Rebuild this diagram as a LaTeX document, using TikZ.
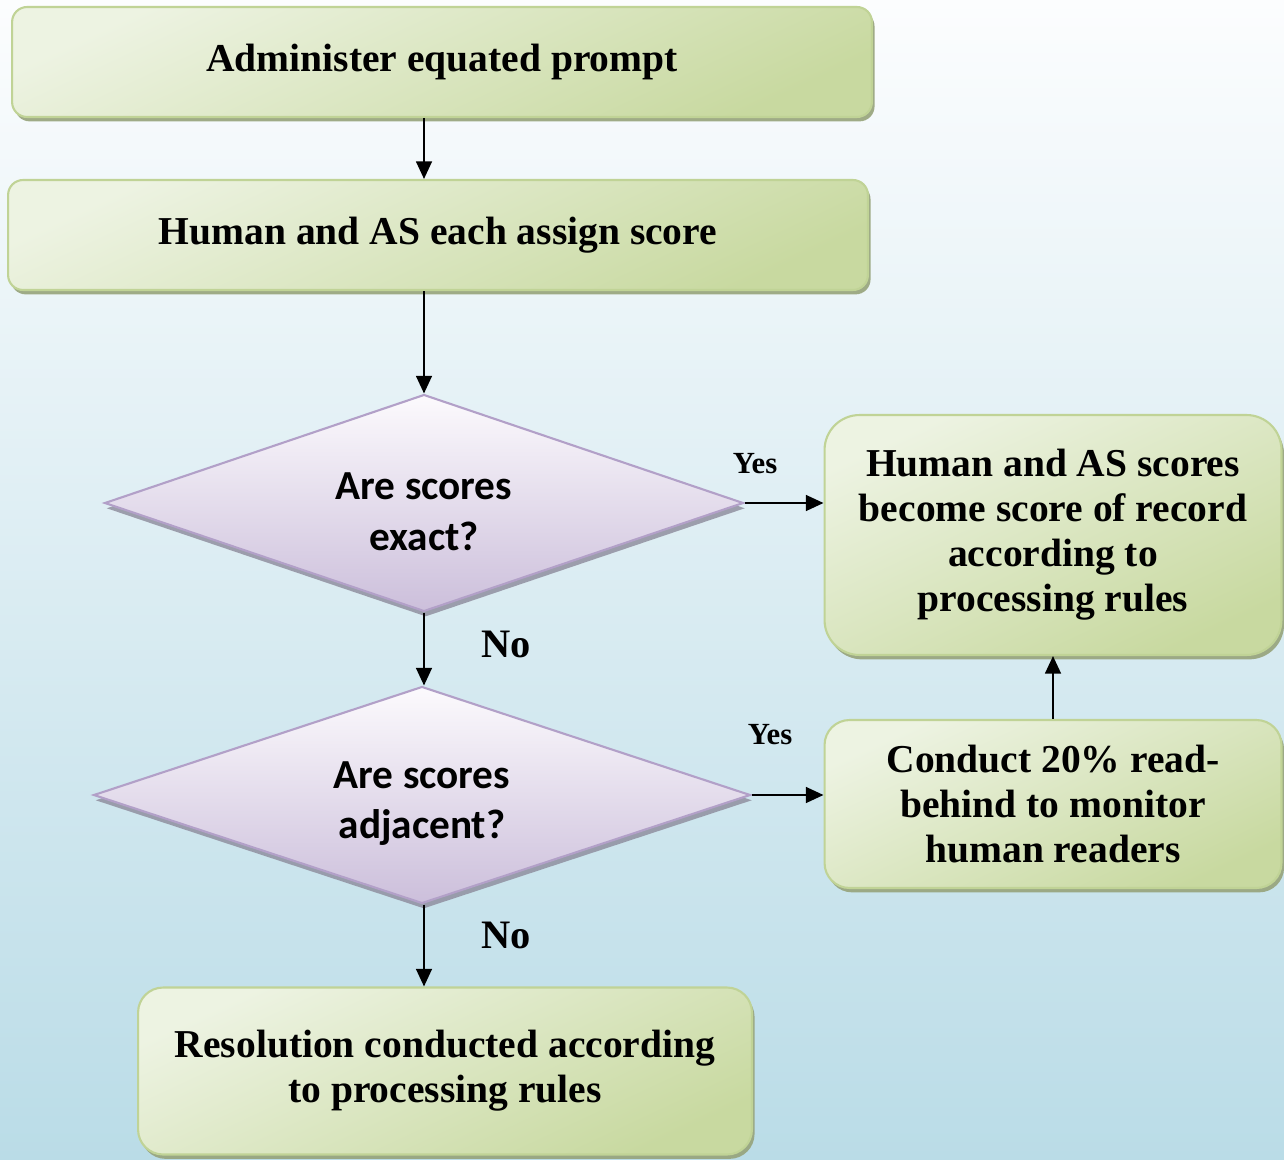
\documentclass[tikz,border=0pt]{standalone}
\usepackage{fontspec}
\setmainfont{Liberation Serif}
\newfontfamily\qfont{Carlito}
\usetikzlibrary{shapes.geometric,arrows.meta,shadows}
\definecolor{boxlight}{RGB}{237,243,226}
\definecolor{boxdark}{RGB}{200,217,160}
\definecolor{boxedge}{RGB}{192,211,150}
\definecolor{boxshade}{RGB}{150,163,122}
\definecolor{qtop}{RGB}{252,250,253}
\definecolor{qbot}{RGB}{204,191,219}
\definecolor{qedge}{RGB}{178,160,200}
\definecolor{qshade}{RGB}{140,138,155}
\definecolor{bgtop}{RGB}{252,253,254}
\definecolor{bgbot}{RGB}{186,220,231}
\newcommand{\qstrut}{\rule{0pt}{25pt}}
\tikzset{
    stepbox/.style={draw=boxedge, line width=1.2pt, rounded corners=0.3cm,
        top color=boxlight, bottom color=boxdark, shading angle=25,
        drop shadow={shadow xshift=1.5pt, shadow yshift=-2.5pt, fill=boxshade, opacity=.9},
        align=center, inner sep=0pt, font=\bfseries\fontsize{22.5}{25.6}\selectfont},
    decision/.style={diamond, aspect=2.94, draw=qedge, line width=1.2pt,
        top color=qtop, bottom color=qbot,
        drop shadow={shadow xshift=1pt, shadow yshift=-3pt, fill=qshade, opacity=.8},
        align=center, inner sep=0pt, font=\qfont\bfseries\fontsize{23.5}{29}\selectfont},
    lbl/.style={inner sep=0pt, font=\bfseries\fontsize{#1}{#1}\selectfont},
    flow/.style={-{Triangle[length=10pt,width=9pt]}, line width=1.1pt, black}
}
\begin{document}
\begin{tikzpicture}[x=0.02cm, y=-0.02cm]
                \useasboundingbox (0,0) rectangle (1284,1159);
                \shade[top color=bgtop, bottom color=bgbot](0,0) rectangle (1284,1159);
                % main column
                \node[stepbox, minimum width=17.2cm, minimum height=2.2cm](adm) at (442,62) {Administer equated prompt};
                \node[stepbox, minimum width=17.2cm, minimum height=2.2cm](assign) at (438,235) {Human and AS each assign score};
                \node[decision, minimum width=12.78cm, minimum height=4.34cm](exact) at (424,503) {\qstrut Are scores\\exact?};
                \node[decision, minimum width=13.14cm, minimum height=4.34cm](adj) at (422,795) {\qstrut Are scores\\adjacent?};
                \node[stepbox, rounded corners=0.5cm, minimum width=12.28cm, minimum height=3.34cm](resol) at (445,1071) {Resolution conducted according\\to processing rules};
                % right column
                \node[stepbox, rounded corners=0.7cm, minimum width=9.14cm, minimum height=4.8cm](record) at (1053,535) {Human and AS scores\\become score of record\\according to\\processing rules};
                \node[stepbox, rounded corners=0.5cm, minimum width=9.14cm, minimum height=3.36cm](readb) at (1053,804) {Conduct 20\% read-\\behind to monitor\\human readers};
                % answers
                \node[lbl=17.5](yes1) at (755,464) {Yes};
                \node[lbl=17.5](yes2) at (770,735) {Yes};
                \node[lbl=23](no1) at (506,644) {No};
                \node[lbl=23](no2) at (506,935) {No};
                % connectors
                \draw[flow](adm.south -| exact.north)--(assign.north -| exact.north);
                \draw[flow](assign.south -| exact.north)--(exact.north);
                \draw[flow](exact.south)--(adj.north -| exact.south);
                \draw[flow](adj.south -| exact.south)--(resol.north -| exact.south);
                \draw[flow](exact.east)--(exact.east -| record.west);
                \draw[flow](adj.east)--(adj.east -| readb.west);
                \draw[flow](readb.north)--(record.south);
            \end{tikzpicture}
\end{document}
